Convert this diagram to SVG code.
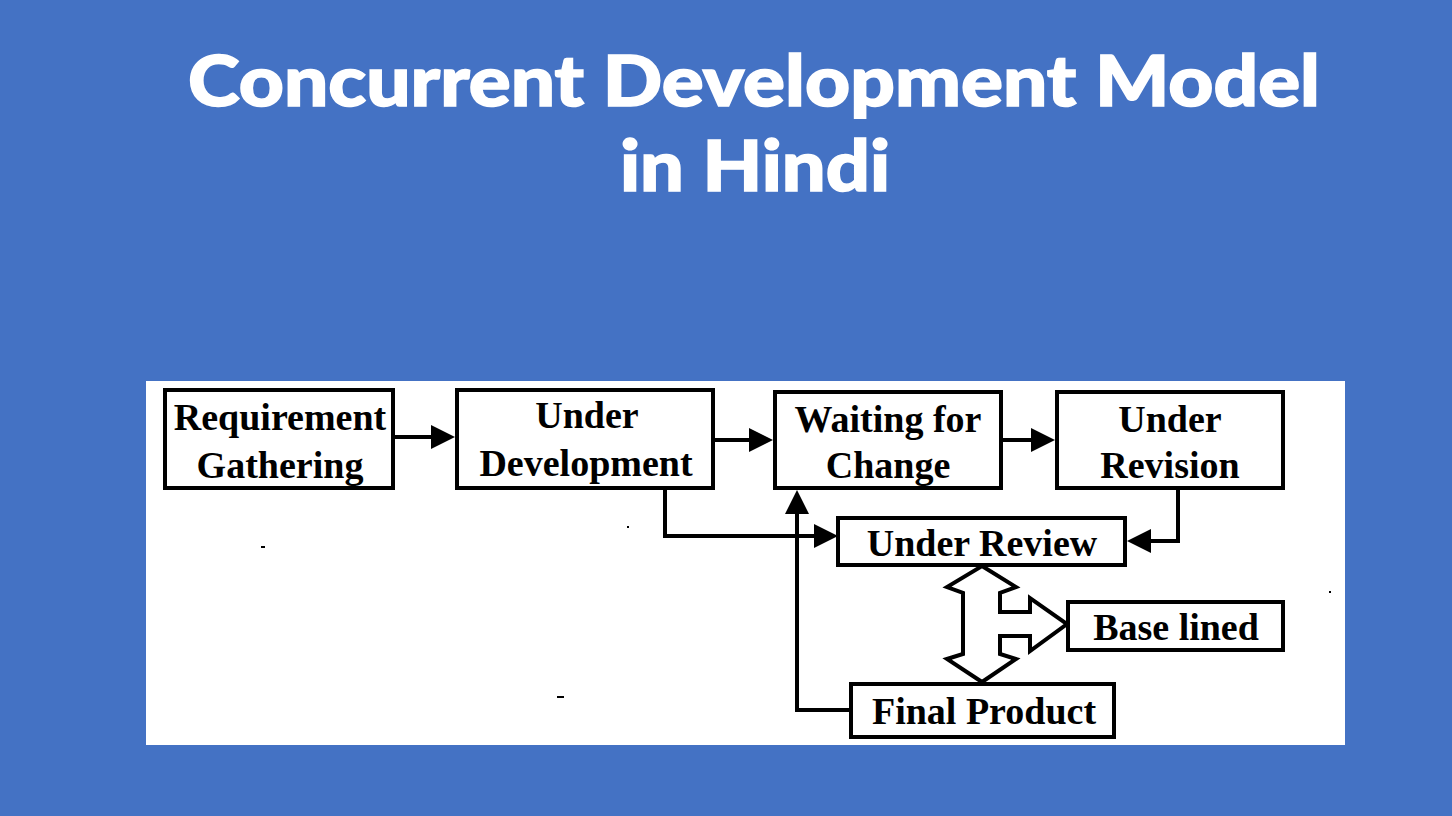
<svg xmlns="http://www.w3.org/2000/svg" width="1452" height="816" viewBox="0 0 1452 816">
<defs>
<style>
.title{font-family:Lato,"Open Sans","Noto Sans",sans-serif;font-weight:900;fill:#ffffff;stroke:#ffffff;stroke-width:1.5;text-anchor:middle}
.box{fill:#ffffff;stroke:#000000;stroke-width:4}
.lbl{font-family:"Liberation Serif","Times New Roman",serif;font-weight:bold;font-size:38px;fill:#000000;text-anchor:middle}
.con{fill:none;stroke:#000000;stroke-width:4}
</style>
<marker id="ah" viewBox="0 0 24 24" refX="20" refY="12" markerWidth="24" markerHeight="24" markerUnits="userSpaceOnUse" orient="auto">
<path d="M0,0 L24,12 L0,24 Z" fill="#000000"/>
</marker>
</defs>
<rect x="0" y="0" width="1452" height="816" fill="#4472c4"/>
<g id="title">
<text class="title" x="754" y="106" font-size="70" textLength="1132" lengthAdjust="spacingAndGlyphs">Concurrent Development Model</text>
<text class="title" x="755" y="191" font-size="70" textLength="270" lengthAdjust="spacingAndGlyphs">in Hindi</text>
</g>
<rect x="146" y="381" width="1199" height="364" fill="#ffffff"/>
<g id="connectors">
<path class="con" d="M393,437 L451,437" marker-end="url(#ah)"/>
<path class="con" d="M713,440 L769,440" marker-end="url(#ah)"/>
<path class="con" d="M1001,440 L1051,440" marker-end="url(#ah)"/>
<path class="con" d="M665,488 L665,536 L834,536" marker-end="url(#ah)"/>
<path class="con" d="M1178,488 L1178,541 L1131,541" marker-end="url(#ah)"/>
<path class="con" d="M851,710 L797,710 L797,494" marker-end="url(#ah)"/>
<polygon class="con" style="fill:#ffffff" points="982,566 1016,587 1000,593 1000,612 1030,612 1030,598 1067,624 1030,651 1030,636 1000,636 1000,654 1016,659 982,682 947,659 963,654 963,593 947,587"/>
</g>
<g id="requirement-gathering">
<rect class="box" x="165" y="390" width="228" height="98"/>
<text class="lbl" x="280" y="430">Requirement</text>
<text class="lbl" x="280" y="478">Gathering</text>
</g>
<g id="under-development">
<rect class="box" x="457" y="390" width="256" height="98"/>
<text class="lbl" x="587" y="428">Under</text>
<text class="lbl" x="586" y="476">Development</text>
</g>
<g id="waiting-for-change">
<rect class="box" x="775" y="392" width="226" height="96"/>
<text class="lbl" x="888" y="432">Waiting for</text>
<text class="lbl" x="888" y="478">Change</text>
</g>
<g id="under-revision">
<rect class="box" x="1057" y="392" width="226" height="96"/>
<text class="lbl" x="1170" y="432">Under</text>
<text class="lbl" x="1170" y="478">Revision</text>
</g>
<g id="under-review">
<rect class="box" x="838" y="518" width="287" height="47"/>
<text class="lbl" x="982" y="556">Under Review</text>
</g>
<g id="base-lined">
<rect class="box" x="1068" y="602" width="215" height="48"/>
<text class="lbl" x="1176" y="640">Base lined</text>
</g>
<g id="final-product">
<rect class="box" x="851" y="684" width="263" height="53"/>
<text class="lbl" x="984" y="724">Final Product</text>
</g>
<g id="scan-marks" fill="#000000">
<rect x="261" y="546" width="4" height="2"/>
<rect x="627" y="526" width="2" height="2"/>
<rect x="557" y="696" width="7" height="2"/>
<rect x="1329" y="591" width="2" height="2"/>
</g>
</svg>
